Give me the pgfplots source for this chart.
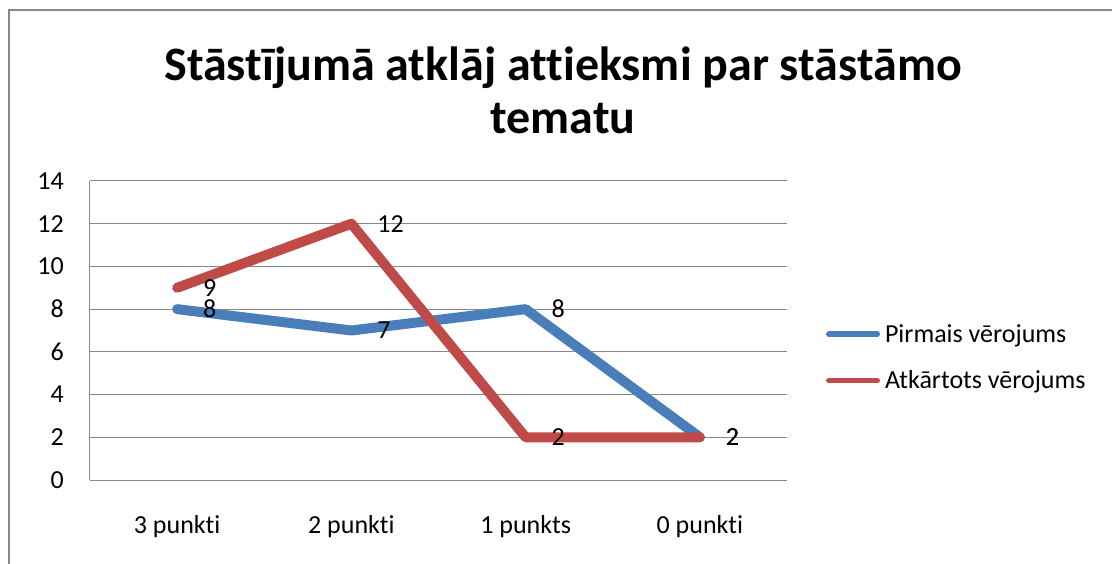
\documentclass[border=0pt]{standalone}
\usepackage{fontspec}
\setmainfont{Carlito}[RawFeature={-liga;-clig;-dlig}]
\usepackage{pgfplots}
\pgfplotsset{compat=1.18}
\definecolor{serA}{HTML}{4A7EBB}
\definecolor{serB}{HTML}{BE4B48}
\definecolor{gridc}{HTML}{888888}
\begin{document}
\begin{tikzpicture}[x=1pt,y=1pt]
\useasboundingbox (0,0) rectangle (1112,563);
\draw[gridc, line width=1.5pt] (9,553) rectangle (1300,-100);
\node[font=\fontsize{48}{56}\selectfont\bfseries, anchor=base, inner sep=0pt] at (563,482) {Stāstījumā atklāj attieksmi par stāstāmo};
\node[font=\fontsize{48}{56}\selectfont\bfseries, anchor=base, inner sep=0pt] at (563,429) {tematu};
\begin{axis}[
  at={(90pt,83pt)}, anchor=south west,
  scale only axis, width=697pt, height=299pt,
  xmin=-0.5, xmax=3.5, ymin=0, ymax=14,
  xtick={0,1,2,3}, xticklabels={3 punkti,2 punkti,1 punkts,0 punkti},
  ytick={0,2,...,14},
  ymajorgrids, grid style={gridc, line width=1pt},
  axis x line*=bottom, axis y line*=left,
  axis line style={gridc, line width=1pt, -},
  major tick length=0pt,
  /pgf/number format/assume math mode=true,
  tick label style={font=\fontsize{26}{31}\selectfont},
  yticklabel style={anchor=east, inner sep=0pt, xshift=-26pt},
  xticklabel style={anchor=north, inner sep=0pt, yshift=-35pt},
  clip=false,
  legend style={at={(1.056,0.41)}, anchor=west, draw=none, fill=none,
    font=\fontsize{26}{31}\selectfont, inner sep=0pt, outer sep=0pt,
    nodes={inner sep=0pt},
    row sep=27pt, /tikz/column sep=5pt, cells={anchor=west}},
  legend image code/.code={\draw[#1, line width=5.5pt, line cap=round] (2.75pt,0pt) -- (51.25pt,0pt); \path[draw=none, fill=none] (0pt,-9pt) -- (0pt,0pt);},
  every node near coord/.style={anchor=west, xshift=21pt, inner sep=0pt, text=black, font=\fontsize{26}{31}\selectfont},
]
\addplot[serA, line width=10pt, line cap=round, line join=round, nodes near coords] coordinates {(0,8) (1,7) (2,8) (3,2)};
\addlegendentry{Pirmais vērojums}
\addplot[serB, line width=10pt, line cap=round, line join=round, nodes near coords] coordinates {(0,9) (1,12) (2,2) (3,2)};
\addlegendentry{Atkārtots vērojums}
\end{axis}
\end{tikzpicture}
\end{document}
